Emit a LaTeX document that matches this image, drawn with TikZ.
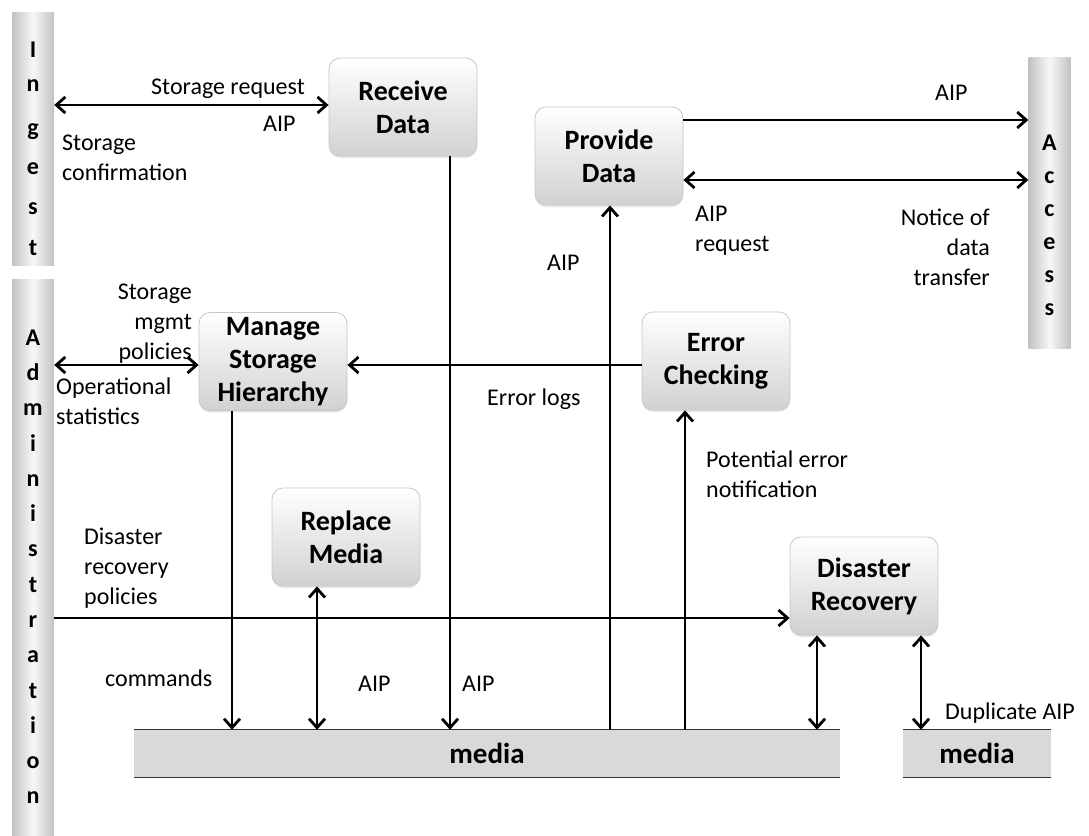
\documentclass[tikz,border=0pt]{standalone}
\usepackage{fontspec}
\setmainfont{Carlito}
\usetikzlibrary{arrows.meta,shadows}
% stacked label lines; the first line carries the baseline
\newcommand\stk[2]{\begin{tabular}[t]{@{}#1@{}}#2\end{tabular}}
\begin{document}
\begin{tikzpicture}[x=1pt,y=-1pt,
  proc/.style={rounded corners=11pt, minimum width=148pt, minimum height=98pt,
    inner sep=0pt, top color=white, bottom color=black!18, draw=black!22,
    line width=0.8pt, align=center, text=black,
    font=\bfseries\fontsize{28}{33}\selectfont,
    drop shadow={opacity=0.18, shadow xshift=0pt, shadow yshift=-2pt}},
  sidebar/.style={minimum width=42pt, inner sep=0pt, draw=none,
    left color=black!24, right color=black!24, middle color=black!3},
  barletter/.style={inner sep=0pt, anchor=base,
    font=\bfseries\fontsize{24}{28}\selectfont},
  media/.style={fill=black!15, inner sep=0pt, minimum height=47pt,
    font=\bfseries\fontsize{29}{34}\selectfont},
  lbl/.style={inner sep=0pt, font=\fontsize{24}{30}\selectfont},
  arr/.style={line width=2.8pt, -{Straight Barb[length=9pt,width=16pt]}},
  darr/.style={line width=2.8pt,
    {Straight Barb[length=9pt,width=16pt]}-{Straight Barb[length=9pt,width=16pt]}}
]
\useasboundingbox (0,0) rectangle (1089,835);

% functional entities at the sides
\node[sidebar, minimum height=253pt] (ingest) at (33,138.5) {};
\node[sidebar, minimum height=556pt] (admin) at (33,557) {};
\node[sidebar, minimum height=291pt] (access) at (1049.5,202.5) {};
\foreach \c/\y [count=\i] in {I/57,n/91,g/135,e/174,s/214,t/255}
  \node[barletter] (ing\i) at (33,\y) {\c};
\foreach \c/\y [count=\i] in {A/345,d/380,m/415,i/451,n/486,i/521,s/556,
    t/592,r/627,a/662,t/698,i/733,o/768,n/803}
  \node[barletter] (adm\i) at (33,\y) {\c};
\foreach \c/\y [count=\i] in {A/150,c/183,c/216,e/249,s/282,s/315}
  \node[barletter] (acc\i) at (1049.5,\y) {\c};

% storage media
\node[media, minimum width=706pt] (m1) at (487,753.5) {media};
\node[media, minimum width=148pt] (m2) at (977,753.5) {media};
\foreach \m in {m1,m2}
  \draw[black!80, line width=1.2pt] (\m.north west) -- (\m.north east)
    (\m.south west) -- (\m.south east);

% processes
\node[proc] (rd)  at (403,107)   {Receive\\Data};
\node[proc] (pd)  at (609,156)   {Provide\\Data};
\node[proc] (msh) at (273,361.5) {Manage\\Storage\\Hierarchy};
\node[proc] (ec)  at (716,361)   {Error\\Checking};
\node[proc] (rm)  at (346,537)   {Replace\\Media};
\node[proc] (dr)  at (864,586)   {Disaster\\Recovery};

% rows and columns of the connectors
\coordinate (h1) at (0,105);
\coordinate (h2) at (0,120);
\coordinate (h3) at (0,180);
\coordinate (h4) at (0,365);
\coordinate (h5) at (0,618);
\coordinate (v1) at (232,0);
\coordinate (v2) at (317,0);
\coordinate (v3) at (450,0);
\coordinate (v4) at (610,0);
\coordinate (v5) at (685,0);
\coordinate (v6) at (817,0);
\coordinate (v7) at (921,0);

\draw[darr] (ingest.east |- h1) -- (rd.west |- h1);
\draw[arr]  (rd.south -| v3) -- (m1.north -| v3);
\draw[arr]  (pd.east |- h2) -- (access.west |- h2);
\draw[darr] (pd.east |- h3) -- (access.west |- h3);
\draw[arr]  (m1.north -| v4) -- (pd.south -| v4);
\draw[darr] (admin.east |- h4) -- (msh.west |- h4);
\draw[arr]  (ec.west |- h4) -- (msh.east |- h4);
\draw[arr]  (msh.south -| v1) -- (m1.north -| v1);
\draw[darr] (rm.south -| v2) -- (m1.north -| v2);
\draw[arr]  (m1.north -| v5) -- (ec.south -| v5);
\draw[arr]  (admin.east |- h5) -- (dr.west |- h5);
\draw[darr] (dr.south -| v6) -- (m1.north -| v6);
\draw[darr] (dr.south -| v7) -- (m2.north -| v7);

% flow labels
\node[lbl, anchor=base east] (t1)  at (305,94)  {Storage request};
\node[lbl, anchor=base west] (t2)  at (263,131) {AIP};
\node[lbl, anchor=base west] (t3)  at (62,150)  {\stk{l}{Storage\\confirmation}};
\node[lbl, anchor=base west] (t4)  at (935,100) {AIP};
\node[lbl, anchor=base west] (t5)  at (695,221) {\stk{l}{AIP\\request}};
\node[lbl, anchor=base east] (t6)  at (990,225) {\stk{r}{Notice of\\data\\transfer}};
\node[lbl, anchor=base west] (t7)  at (547,270) {AIP};
\node[lbl, anchor=base west] (t8)  at (487,405) {Error logs};
\node[lbl, anchor=base east] (t9)  at (192,299) {\stk{r}{Storage\\mgmt\\policies}};
\node[lbl, anchor=base west] (t10) at (56,394)  {\stk{l}{Operational\\statistics}};
\node[lbl, anchor=base west] (t11) at (706,467) {\stk{l}{Potential error\\notification}};
\node[lbl, anchor=base west] (t12) at (84,544)  {\stk{l}{Disaster\\recovery\\policies}};
\node[lbl, anchor=base west] (t13) at (105,686) {commands};
\node[lbl, anchor=base west] (t14) at (358,691) {AIP};
\node[lbl, anchor=base west] (t15) at (462,691) {AIP};
\node[lbl, anchor=base west] (t16) at (945,719) {Duplicate AIP};
\end{tikzpicture}
\end{document}
